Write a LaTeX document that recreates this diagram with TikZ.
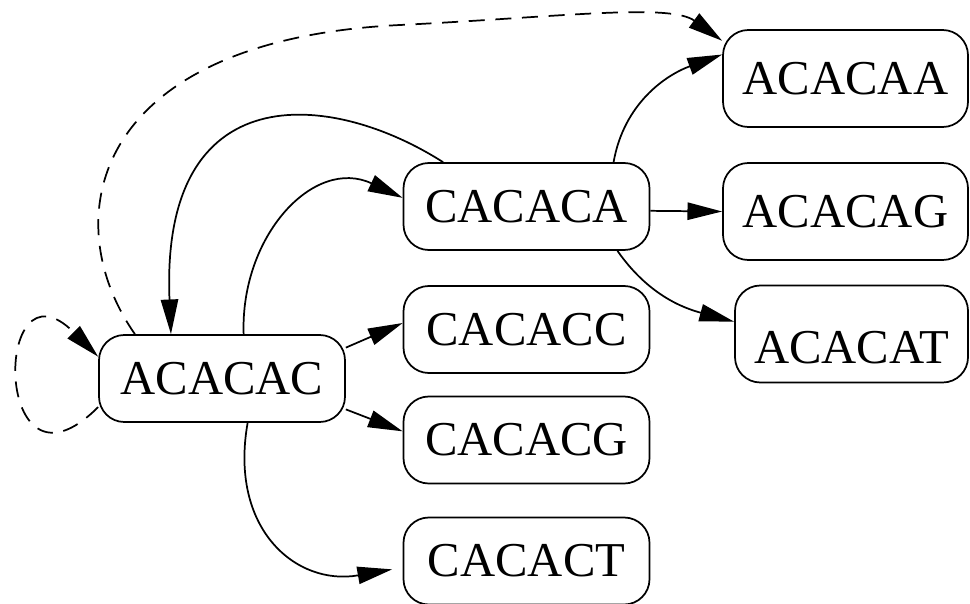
\documentclass[tikz,border=0pt]{standalone}
\usepackage{fontspec}
\setmainfont{Liberation Serif}
\usetikzlibrary{arrows.meta,positioning}

\begin{document}
\begin{tikzpicture}[x=0.75pt,y=0.75pt]
	\tikzstyle{seq} = [rectangle, draw, rounded corners=19pt, line width=1.3pt, minimum width=184.5pt, minimum height=65.25pt, inner sep=0pt, font=\fontsize{36.5pt}{40pt}\selectfont]
	\tikzstyle{seqtall} = [seq, minimum width=183.75pt, minimum height=72.75pt]
	\tikzstyle{link} = [line width=1.3pt, -{Triangle[length=26pt,width=13pt]}]
	\tikzstyle{dashlink} = [link, dash pattern=on 12pt off 8pt]

	\useasboundingbox (0,0) rectangle (970,-603);

	% Sequence nodes
	\node[seq] (acacac) at (222,-378.5) {ACACAC};
	\node[seq] (cacaca) at (526.5,-206.5) {CACACA};
	\node[seq] (cacacc) at (526.5,-329.5) {CACACC};
	\node[seq] (cacacg) at (526.5,-440) {CACACG};
	\node[seq] (cacact) at (526.5,-561) {CACACT};
	\node[seqtall] (acacaa) at (845.5,-78.5) {ACACAA};
	\node[seqtall] (acacag) at (845.5,-211.5) {ACACAG};
	\node[seqtall, minimum width=174.75pt] (acacat) at (851.5,-334) {\raisebox{-10pt}[\height][\depth]{ACACAT}};

	% Dashed links
	\draw[dashlink] (acacac.193.5) .. controls +(-135:150) and +(135:150) .. (acacac.170);
	\draw[dashlink] (acacac.153) .. controls (55,-220) and (90,-40) .. (400,-25)
		.. controls (560,-17) and (670,-3) .. (acacaa.163);

	% Links out of ACACAC
	\draw[link] (acacac.64) to[out=92,in=155,looseness=1.2] (cacaca.176);
	\draw[link] (acacac.14) -- (cacacc.177);
	\draw[link] (acacac.-14) -- (cacacg.176);
	\draw[link, shorten >=8pt] (acacac.-60) to[out=-100,in=190,looseness=1.3] (cacact.183);

	% Links out of CACACA
	\draw[link] (cacaca.152) .. controls (330,-90) and (160,-75) .. (acacac.139);
	\draw[link] (cacaca.27) to[out=80,in=200] (acacaa.169);
	\draw[link] (cacaca.-2.5) -- (acacag.180);
	\draw[link] (cacaca.-26) to[out=-55,in=165] (acacat.174);
\end{tikzpicture}
\end{document}
